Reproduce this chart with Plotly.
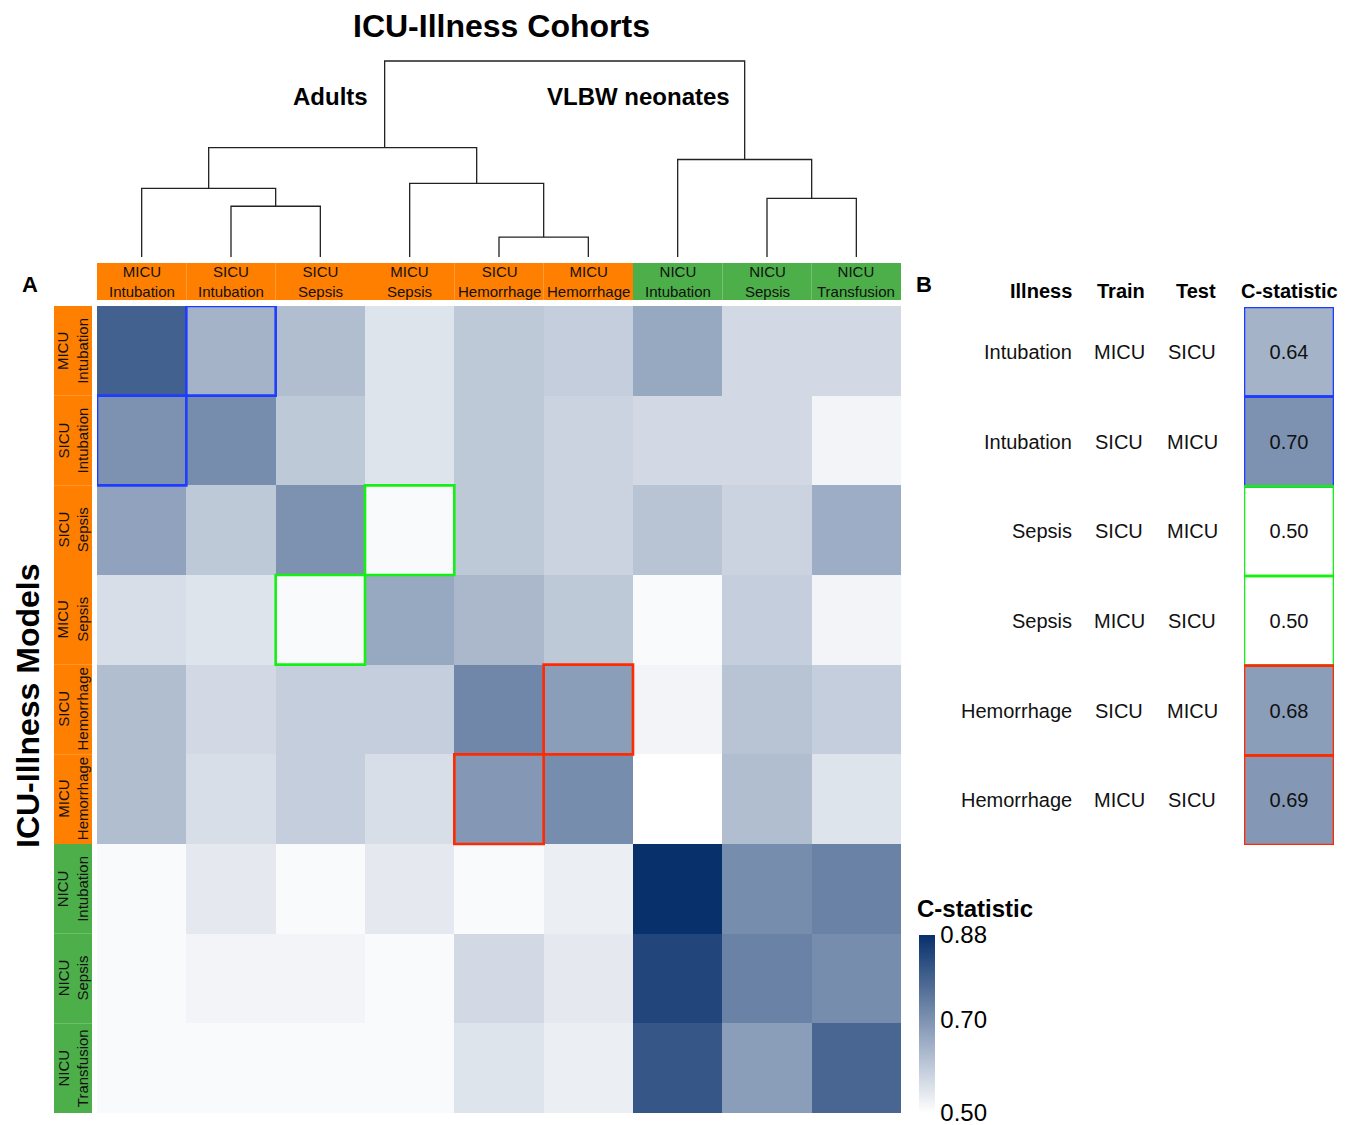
import plotly.graph_objects as go

W, H = 1357, 1125

# ---------------- data ----------------
LABELS = ["MICU Intubation", "SICU Intubation", "SICU Sepsis", "MICU Sepsis",
          "SICU Hemorrhage", "MICU Hemorrhage", "NICU Intubation", "NICU Sepsis",
          "NICU Transfusion"]

# rows = models (train), columns = cohorts (test)
C_MICU_INT = [0.79, 0.64, 0.62, 0.55, 0.60, 0.59, 0.66, 0.57, 0.57]
C_SICU_INT = [0.70, 0.71, 0.60, 0.55, 0.60, 0.58, 0.57, 0.57, 0.52]
C_SICU_SEP = [0.67, 0.60, 0.70, 0.51, 0.60, 0.58, 0.61, 0.58, 0.65]
C_MICU_SEP = [0.56, 0.55, 0.51, 0.66, 0.63, 0.60, 0.51, 0.59, 0.52]
C_SICU_HEM = [0.62, 0.57, 0.59, 0.59, 0.72, 0.68, 0.52, 0.61, 0.59]
C_MICU_HEM = [0.62, 0.56, 0.59, 0.56, 0.69, 0.71, 0.50, 0.62, 0.55]
C_NICU_INT = [0.51, 0.54, 0.51, 0.54, 0.51, 0.53, 0.88, 0.71, 0.73]
C_NICU_SEP = [0.51, 0.52, 0.52, 0.51, 0.57, 0.54, 0.84, 0.73, 0.71]
C_NICU_TRA = [0.51, 0.51, 0.51, 0.51, 0.55, 0.53, 0.81, 0.68, 0.78]
MATRIX = [C_MICU_INT, C_SICU_INT, C_SICU_SEP, C_MICU_SEP, C_SICU_HEM,
          C_MICU_HEM, C_NICU_INT, C_NICU_SEP, C_NICU_TRA]

TABLE_ILLNESS = ["Intubation", "Intubation", "Sepsis", "Sepsis", "Hemorrhage", "Hemorrhage"]
TABLE_TRAIN = ["MICU", "SICU", "SICU", "MICU", "SICU", "MICU"]
TABLE_TEST = ["SICU", "MICU", "MICU", "SICU", "MICU", "SICU"]
TABLE_C = [0.64, 0.70, 0.50, 0.50, 0.68, 0.69]
TABLE_BOX = ["#1f3dff", "#1f3dff", "#14f014", "#14f014", "#ff2a00", "#ff2a00"]

# dendrogram: (name, left child, right child, merge height)
DENDRO_MERGES = [
    ("A", 1, 2, 51),
    ("B", 0, "A", 69),
    ("C", 4, 5, 20),
    ("D", 3, "C", 74),
    ("E", "B", "D", 110),
    ("F", 7, 8, 59),
    ("G", 6, "F", 98),
    ("root", "E", "G", 197),
]
DENDRO_ANCHOR = {"E": 2.72}  # where the parent link attaches (as drawn in the source)

CBAR_TICKS = [0.50, 0.70, 0.88]
ZMIN, ZMAX = 0.50, 0.88

# ---------------- styling ----------------
FONT = "Liberation Sans, Arial, Helvetica, sans-serif"
ORANGE = "#ff7f00"
GREEN = "#4daf4a"
CSCALE = [[0, "#ffffff"], [1, "#08306b"]]


def px(x):
    return x / W


def py(y):
    return 1 - y / H


HM_X = (97, 901)
HM_Y = (306, 1113)
TB_X = (1244, 1334)
TB_Y = (307, 845)

fig = go.Figure()

n = len(LABELS)
fig.add_trace(go.Heatmap(
    z=MATRIX, x=list(range(n)), y=list(range(n)),
    zmin=ZMIN, zmax=ZMAX, colorscale=CSCALE, xaxis="x", yaxis="y",
    colorbar=dict(
        x=px(919), xanchor="left", xpad=0,
        y=py(1113), yanchor="bottom", ypad=0,
        len=178, lenmode="pixels", thickness=16, thicknessmode="pixels",
        outlinewidth=0, ticks="", tickvals=CBAR_TICKS,
        ticktext=[f"{v:.2f}" for v in CBAR_TICKS],
        ticklabeloverflow="allow",
        tickfont=dict(size=24, family=FONT, color="#000"),
    ),
    hoverinfo="skip",
))

# table heatmap (C-statistic column)
m = len(TABLE_C)
fig.add_trace(go.Heatmap(
    z=[[v] for v in TABLE_C], x=[0], y=list(range(m)),
    zmin=ZMIN, zmax=ZMAX, colorscale=CSCALE, showscale=False,
    xaxis="x3", yaxis="y3",
    text=[[f"{v:.2f}"] for v in TABLE_C], texttemplate="%{text}",
    textfont=dict(size=20, family=FONT, color="#111"),
    hoverinfo="skip",
))

# dendrogram
pos = {i: float(i) for i in range(n)}
hgt = {i: 0.0 for i in range(n)}
for name, l, r, h in DENDRO_MERGES:
    xl, xr = pos[l], pos[r]
    xs = [xl, xl, xr, xr]
    ys = [hgt[l], h, h, hgt[r]]
    fig.add_trace(go.Scatter(x=xs, y=ys, mode="lines", xaxis="x2", yaxis="y2",
                             line=dict(color="#222", width=1.3), hoverinfo="skip",
                             showlegend=False))
    pos[name] = DENDRO_ANCHOR.get(name, (xl + xr) / 2)
    hgt[name] = h

shapes = []
annotations = []


def group_color(label):
    return GREEN if label.startswith("NICU") else ORANGE


# header strip and left strip
for i, lab in enumerate(LABELS):
    unit, ill = lab.split(" ", 1)
    shapes.append(dict(type="rect", xref="x", yref="paper", x0=i - 0.5, x1=i + 0.5,
                       y0=py(300), y1=py(263), fillcolor=group_color(lab), line_width=0,
                       layer="below"))
    annotations.append(dict(xref="x", yref="paper", x=i, y=py(282), text=f"{unit}<br>{ill}",
                            showarrow=False, font=dict(size=15, family=FONT, color="#111"),
                            xanchor="center", yanchor="middle"))
    shapes.append(dict(type="rect", xref="paper", yref="y", x0=px(54), x1=px(92),
                       y0=i - 0.5, y1=i + 0.5, fillcolor=group_color(lab), line_width=0,
                       layer="below"))
    annotations.append(dict(xref="paper", yref="y", x=px(73), y=i, text=f"{unit}<br>{ill}",
                            showarrow=False, textangle=-90,
                            font=dict(size=15, family=FONT, color="#111"),
                            xanchor="center", yanchor="middle"))

# highlighted cells in heatmap derived from the table
for ill, tr, te, col in zip(TABLE_ILLNESS, TABLE_TRAIN, TABLE_TEST, TABLE_BOX):
    r = LABELS.index(f"{tr} {ill}")
    c = LABELS.index(f"{te} {ill}")
    shapes.append(dict(type="rect", xref="x", yref="y", x0=c - 0.5, x1=c + 0.5,
                       y0=r - 0.5, y1=r + 0.5, line=dict(color=col, width=2.6),
                       fillcolor="rgba(0,0,0,0)"))

# table borders + text
for k, col in enumerate(TABLE_BOX):
    shapes.append(dict(type="rect", xref="x3", yref="y3", x0=-0.5, x1=0.5,
                       y0=k - 0.5, y1=k + 0.5, line=dict(color=col, width=2.6),
                       fillcolor="rgba(0,0,0,0)"))
    annotations.append(dict(xref="paper", yref="y3", x=px(1074), y=k, text=TABLE_ILLNESS[k],
                            showarrow=False, xanchor="right", yanchor="middle",
                            font=dict(size=20, family=FONT, color="#111")))
    annotations.append(dict(xref="paper", yref="y3", x=px(1119), y=k, text=TABLE_TRAIN[k],
                            showarrow=False, xanchor="center", yanchor="middle",
                            font=dict(size=20, family=FONT, color="#111")))
    annotations.append(dict(xref="paper", yref="y3", x=px(1192), y=k, text=TABLE_TEST[k],
                            showarrow=False, xanchor="center", yanchor="middle",
                            font=dict(size=20, family=FONT, color="#111")))

hdr_font = dict(size=20, family=FONT, color="#000")
annotations += [
    dict(xref="paper", yref="paper", x=px(1074), y=py(291), text="<b>Illness</b>",
         xanchor="right", yanchor="middle", showarrow=False, font=hdr_font),
    dict(xref="paper", yref="paper", x=px(1121), y=py(291), text="<b>Train</b>",
         xanchor="center", yanchor="middle", showarrow=False, font=hdr_font),
    dict(xref="paper", yref="paper", x=px(1196), y=py(291), text="<b>Test</b>",
         xanchor="center", yanchor="middle", showarrow=False, font=hdr_font),
    dict(xref="paper", yref="paper", x=px(1289), y=py(291), text="<b>C-statistic</b>",
         xanchor="center", yanchor="middle", showarrow=False, font=hdr_font),
    dict(xref="paper", yref="paper", x=px(501), y=py(26), text="<b>ICU-Illness Cohorts</b>",
         xanchor="center", yanchor="middle", showarrow=False,
         font=dict(size=32, family=FONT, color="#000")),
    dict(xref="paper", yref="paper", x=px(28), y=py(706), text="<b>ICU-Illness Models</b>",
         xanchor="center", yanchor="middle", showarrow=False, textangle=-90,
         font=dict(size=32, family=FONT, color="#000")),
    dict(xref="paper", yref="paper", x=px(370), y=py(97), text="<b>Adults</b>",
         xanchor="right", yanchor="middle", showarrow=False,
         font=dict(size=24, family=FONT, color="#000")),
    dict(xref="paper", yref="paper", x=px(732), y=py(97), text="<b>VLBW neonates</b>",
         xanchor="right", yanchor="middle", showarrow=False,
         font=dict(size=24, family=FONT, color="#000")),
    dict(xref="paper", yref="paper", x=px(30), y=py(284), text="<b>A</b>",
         xanchor="center", yanchor="middle", showarrow=False,
         font=dict(size=22, family=FONT, color="#000")),
    dict(xref="paper", yref="paper", x=px(924), y=py(284), text="<b>B</b>",
         xanchor="center", yanchor="middle", showarrow=False,
         font=dict(size=22, family=FONT, color="#000")),
    dict(xref="paper", yref="paper", x=px(915), y=py(908), text="<b>C-statistic</b>",
         xanchor="left", yanchor="middle", showarrow=False,
         font=dict(size=24, family=FONT, color="#000")),
]

hidden = dict(showticklabels=False, showgrid=False, zeroline=False, ticks="",
              showline=False, fixedrange=True)

fig.update_layout(
    width=W, height=H,
    margin=dict(l=0, r=0, t=0, b=0),
    paper_bgcolor="white", plot_bgcolor="white",
    showlegend=False,
    xaxis=dict(domain=[px(HM_X[0]), px(HM_X[1])], range=[-0.5, n - 0.5], **hidden),
    yaxis=dict(domain=[py(HM_Y[1]), py(HM_Y[0])], range=[n - 0.5, -0.5], **hidden),
    xaxis2=dict(domain=[px(HM_X[0]), px(HM_X[1])], range=[-0.5, n - 0.5], anchor="y2", **hidden),
    yaxis2=dict(domain=[py(257), py(58)], range=[0, 200], anchor="x2", **hidden),
    xaxis3=dict(domain=[px(TB_X[0]), px(TB_X[1])], range=[-0.5, 0.5], anchor="y3", **hidden),
    yaxis3=dict(domain=[py(TB_Y[1]), py(TB_Y[0])], range=[m - 0.5, -0.5], anchor="x3", **hidden),
    shapes=shapes,
    annotations=annotations,
    font=dict(family=FONT),
)

fig.write_html("out.html", config={"displayModeBar": False},
               post_script="document.body.style.margin='0';document.body.style.padding='0';")
